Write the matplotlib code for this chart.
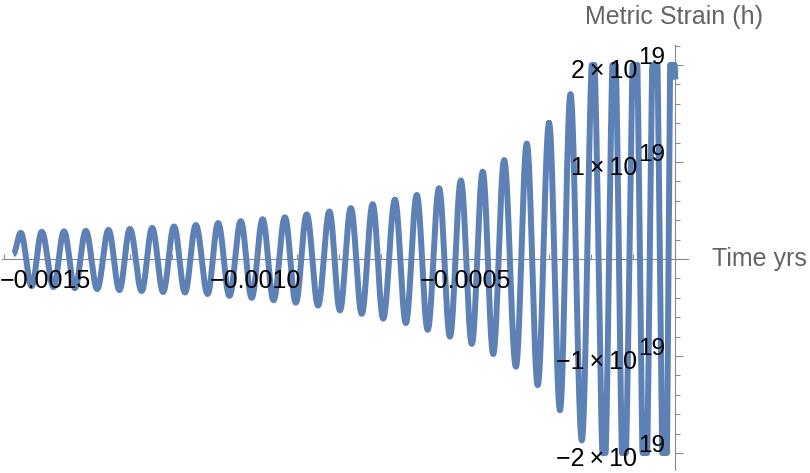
import numpy as np
import matplotlib
matplotlib.use("Agg")
import matplotlib.pyplot as plt
from matplotlib.ticker import MultipleLocator, NullFormatter

plt.rcParams['font.family'] = ['Liberation Sans', 'DejaVu Sans']

# extrema: time in yrs, strain in units of 1e19
peak_t = [-0.001559, -0.001509, -0.001456, -0.001404, -0.001350, -0.001299,
          -0.001246, -0.001194, -0.001142, -0.001089, -0.001035, -0.000983,
          -0.000930, -0.000878, -0.000824, -0.000773, -0.000721, -0.000668,
          -0.000616, -0.000563, -0.000511, -0.000459, -0.000408, -0.000354,
          -0.000301, -0.000250, -0.000196, -0.000146, -0.000096, -0.000049,
          -0.000008]
peak_h = [0.27, 0.28, 0.285, 0.29, 0.30, 0.31, 0.32, 0.335, 0.35, 0.37,
          0.39, 0.41, 0.43, 0.46, 0.49, 0.525, 0.565, 0.61, 0.66, 0.73,
          0.81, 0.90, 1.02, 1.19, 1.40, 1.70, 2.2, 2.4, 2.7, 3.0, 3.3]
trough_t = [-0.001533, -0.001481, -0.001430, -0.001377, -0.001324, -0.001271,
            -0.001220, -0.001168, -0.001114, -0.001062, -0.001009, -0.000957,
            -0.000904, -0.000851, -0.000799, -0.000747, -0.000696, -0.000642,
            -0.000590, -0.000537, -0.000485, -0.000434, -0.000380, -0.000328,
            -0.000275, -0.000223, -0.000170, -0.000123, -0.000073, -0.000025]
trough_h = [-0.28, -0.29, -0.30, -0.31, -0.32, -0.33, -0.34, -0.345, -0.36,
            -0.38, -0.40, -0.425, -0.45, -0.48, -0.53, -0.565, -0.615, -0.66,
            -0.73, -0.80, -0.875, -0.98, -1.11, -1.30, -1.56, -1.87, -2.3,
            -2.5, -2.8, -3.2]
start_t, start_h = -0.001577, 0.05
end_t, end_h = 0.0, 1.85
h_clip = 2.0

x_ticks = [-0.0015, -0.0010, -0.0005]
x_tick_labels = ["\u22120.0015", "\u22120.0010", "\u22120.0005"]
y_ticks = [-2, -1, 1, 2]
y_tick_labels = ["\u22122\u2009\u00d7\u200910", "\u22121\u2009\u00d7\u200910",
                 "1\u2009\u00d7\u200910", "2\u2009\u00d7\u200910"]

# join the extrema with half-cosine arcs, then clip like the plot range does
at = np.concatenate([[start_t], peak_t, trough_t, [end_t]])
ah = np.concatenate([[start_h], peak_h, trough_h, [end_h]])
order = np.argsort(at)
at, ah = at[order], ah[order]
s = np.linspace(0, 1, 40)
w = (1 - np.cos(np.pi * s)) / 2
ts, hs = [], []
for i in range(len(at) - 1):
    ts.append(at[i] + (at[i + 1] - at[i]) * s)
    hs.append(ah[i] + (ah[i + 1] - ah[i]) * w)
t = np.concatenate(ts)
h = np.clip(np.concatenate(hs), -h_clip, h_clip) * 1e19

fig = plt.figure(figsize=(8.1, 4.73), dpi=100)
ax = fig.add_axes([2 / 810, 3 / 473, 686 / 810, 425 / 473])

ax.plot(t, h, color='#5E81B5', lw=4.3, solid_joinstyle='round',
        solid_capstyle='butt', zorder=1.2)

ax.set_xlim(-0.0016036, 0.0000298)
ax.set_ylim(-2.175e19, 2.206e19)

for side in ['top', 'right']:
    ax.spines[side].set_visible(False)
for side in ['left', 'bottom']:
    ax.spines[side].set_position(('data', 0))
    ax.spines[side].set_color('#8a8a8a')
    ax.spines[side].set_linewidth(0.8)
    ax.spines[side].set_zorder(1)

ax.set_xticks(x_ticks, labels=x_tick_labels)
ax.xaxis.set_minor_locator(MultipleLocator(0.0001))
ax.set_yticks([v * 1e19 for v in y_ticks])
ax.yaxis.set_major_formatter(NullFormatter())
ax.yaxis.set_minor_locator(MultipleLocator(0.2e19))
ax.tick_params(axis='both', which='both', direction='in', color='#8a8a8a')
ax.tick_params(axis='both', which='major', length=5.5, width=0.8)
ax.tick_params(axis='both', which='minor', length=3.5, width=0.8)
ax.tick_params(axis='x', labelsize=18, pad=7, labelcolor='black')
ax.xaxis.set_zorder(3)

for v, lab in zip(y_ticks, y_tick_labels):
    ax.annotate(lab, xy=(0, v * 1e19), xytext=(-27.4, -9.4),
                textcoords='offset points', ha='right', va='baseline',
                fontsize=18, color='black', zorder=4)
    ax.annotate('19', xy=(0, v * 1e19), xytext=(-7.2, 0.7),
                textcoords='offset points', ha='right', va='baseline',
                fontsize=17.5, color='black', zorder=4)

fig.text(712 / 810, 1 - 259 / 473, 'Time yrs', ha='left', va='center',
         fontsize=18, color='#646464')
fig.text(674 / 810, 1 - 17 / 473, 'Metric Strain (h)', ha='center',
         va='center', fontsize=18, color='#646464')

fig.savefig('out.png', dpi=100)
